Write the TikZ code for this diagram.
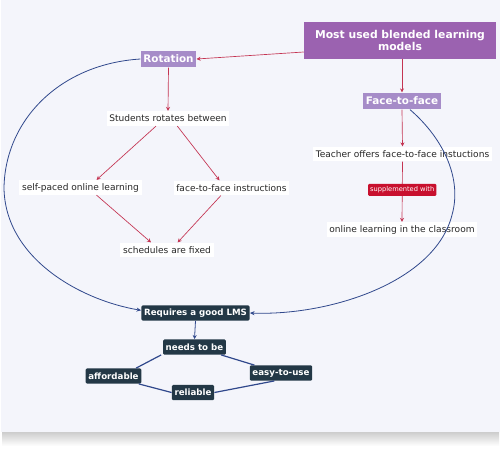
\documentclass[tikz,border=0pt]{standalone}
\usepackage{fontspec}
\setmainfont{DejaVu Sans}
\usetikzlibrary{arrows.meta,shadings}
\definecolor{bgc}{RGB}{244,245,251}
\definecolor{titlec}{RGB}{155,98,176}
\definecolor{modc}{RGB}{166,140,200}
\definecolor{redc}{RGB}{196,52,82}
\definecolor{supc}{RGB}{200,16,46}
\definecolor{darkc}{RGB}{35,56,70}
\definecolor{bluec}{RGB}{48,72,140}
\definecolor{txtc}{RGB}{40,40,40}
\tikzset{
  title/.style={fill=titlec,text=white,font=\fontsize{8.1pt}{9pt}\selectfont\bfseries,align=center,minimum width=144pt,minimum height=27.5pt,inner sep=1pt},
  model/.style={fill=modc,text=white,font=\fontsize{7.8pt}{9pt}\selectfont\bfseries,inner sep=2pt,minimum height=12.5pt},
  plain/.style={fill=white,text=txtc,font=\fontsize{6.8pt}{8pt}\selectfont,inner sep=2pt,minimum height=11pt},
  sup/.style={fill=supc,text=white,font=\fontsize{5pt}{6pt}\selectfont,inner sep=1.5pt,minimum height=9pt,rounded corners=0.8pt},
  dark/.style={fill=darkc,text=white,font=\fontsize{6.5pt}{7.5pt}\selectfont\bfseries,inner sep=2pt,minimum height=11.5pt,rounded corners=1pt},
  redarrow/.style={draw=redc,line width=0.5pt,-{Stealth[length=3pt,width=3pt]}},
  bluearrow/.style={draw=bluec,line width=0.6pt,-{Stealth[length=3.5pt,width=3pt]}},
  blueline/.style={draw=bluec,line width=0.9pt},
}
\begin{document}
\begin{tikzpicture}[x=0.75pt,y=-0.75pt]
\useasboundingbox (0,0) rectangle (501,454);
\fill[white] (0,0) rectangle (501,454);
\shade[top color=gray!45,bottom color=white] (2,430) rectangle (499,446);
\fill[bgc] (1,0) rectangle (500,432);

\node[title] (t) at (400,40.5) {Most used blended learning\\models};
\node[model] (rot) at (168.5,59) {Rotation};
\node[model] (f2f) at (402,101) {Face-to-face};
\node[plain] (stu) at (168,118.5) {Students rotates between};
\node[plain] (self) at (80.5,187.5) {self-paced online learning};
\node[plain] (fins) at (231.5,188) {face-to-face instructions};
\node[plain] (sch) at (167,250) {schedules are fixed};
\node[plain] (tea) at (402.5,154) {Teacher offers face-to-face instuctions};
\node[plain] (onl) at (402,229.5) {online learning in the classroom};
\node[dark] (req) at (195.5,313) {Requires a good LMS};
\node[dark] (need) at (194.5,347) {needs to be};
\node[dark] (aff) at (113.5,376) {affordable};
\node[dark] (easy) at (281,373) {easy-to-use};
\node[dark] (rel) at (193,392.5) {reliable};

\draw[redarrow] (t.west |- 0,52) -- (rot.east);
\draw[redarrow] (t.south -| f2f) -- (f2f.north);
\draw[redarrow] (rot.south) -- (stu.north);
\draw[redarrow] ([xshift=-9pt]stu.south) -- ([xshift=12pt]self.north);
\draw[redarrow] ([xshift=7pt]stu.south) -- ([xshift=-9pt]fins.north);
\draw[redarrow] ([xshift=12pt]self.south) -- ([xshift=-12pt]sch.north);
\draw[redarrow] ([xshift=-8pt]fins.south) -- ([xshift=8pt]sch.north);
\draw[redarrow] (f2f.south) -- (tea.north);
\draw[redarrow] (tea.south) -- (onl.north)
  node[sup,pos=0.47] {supplemented with};

\draw[bluearrow] (rot.west) .. controls (60,64) and (5,120) .. (4,188)
  .. controls (5,258) and (80,300) .. ([yshift=2pt]req.west);
\draw[bluearrow] ([xshift=6pt]f2f.south) .. controls (445,140) and (462,180) .. (452,215)
  .. controls (435,282) and (330,316) .. (req.east);

\draw[draw=bluec,line width=0.6pt,-{Stealth[length=3pt,width=3pt]}] (req.south) -- (need.north);
\draw[blueline] ([xshift=-25pt]need.south) -- ([xshift=17pt]aff.north);
\draw[blueline] ([xshift=20pt]need.south) -- ([xshift=-20pt]easy.north);
\draw[blueline] ([xshift=-2pt]aff.south east) -- (rel.west);
\draw[blueline] (rel.east) -- ([xshift=-5pt]easy.south);
\end{tikzpicture}
\end{document}
